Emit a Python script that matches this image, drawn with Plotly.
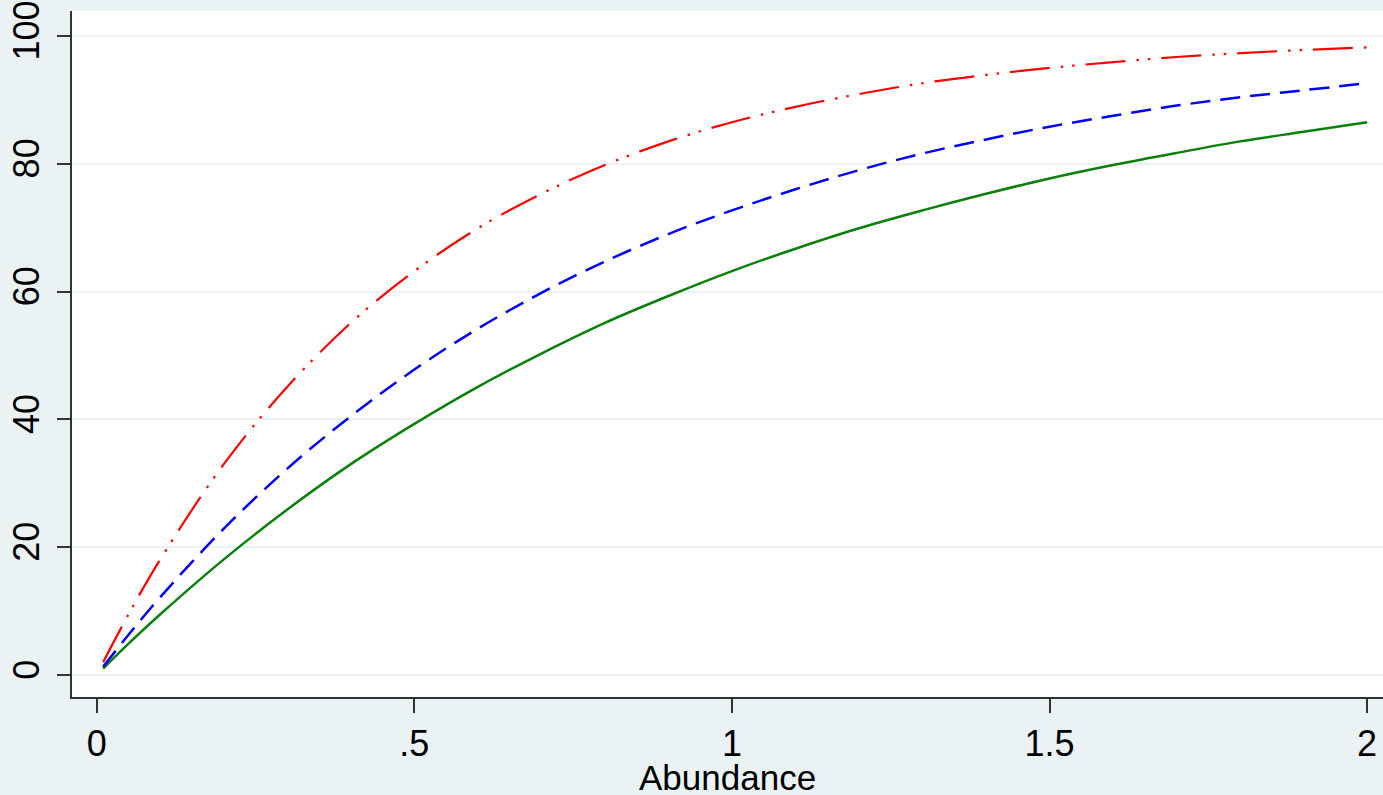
import plotly.graph_objects as go

abundance = [0.01, 0.05, 0.1, 0.2, 0.3, 0.4, 0.5, 0.6, 0.7, 0.8, 0.9, 1.0,
             1.1, 1.2, 1.3, 1.4, 1.5, 1.6, 1.7, 1.8, 1.9, 2.0]
red_vals = [2.0, 9.5, 18.1, 33.0, 45.1, 55.1, 63.2, 69.9, 75.3, 79.8, 83.5, 86.5,
            88.9, 90.9, 92.6, 93.9, 95.0, 95.9, 96.7, 97.3, 97.8, 98.2]
blue_vals = [1.3, 6.3, 12.2, 22.9, 32.3, 40.5, 47.8, 54.2, 59.8, 64.7, 69.0, 72.7,
             76.0, 79.0, 81.6, 83.8, 85.8, 87.5, 89.1, 90.4, 91.5, 92.6]
green_vals = [1.0, 4.9, 9.5, 18.1, 25.9, 33.0, 39.3, 45.1, 50.3, 55.1, 59.3, 63.2,
              66.7, 69.9, 72.7, 75.3, 77.7, 79.8, 81.7, 83.5, 85.0, 86.5]
x_ticks = [0, 0.5, 1, 1.5, 2]
x_ticklabels = ["0", ".5", "1", "1.5", "2"]
y_ticks = [0, 20, 40, 60, 80, 100]
y_ticklabels = ["0", "20", "40", "60", "80", "100"]
x_title = "Abundance"

BG = "#EAF2F3"
fig = go.Figure()
fig.add_trace(go.Scatter(x=abundance, y=green_vals, mode="lines", line_shape="spline",
                         line=dict(color="#0a800a", width=2.5)))
fig.add_trace(go.Scatter(x=abundance, y=blue_vals, mode="lines", line_shape="spline",
                         line=dict(color="#0000FF", width=2.5, dash="20px,10px")))
fig.add_trace(go.Scatter(x=abundance, y=red_vals, mode="lines", line_shape="spline",
                         line=dict(color="#FF0000", width=2.2,
                                   dash="40px,11px,2.5px,9px,2.5px,11px")))

fig.update_layout(
    width=1383, height=795,
    paper_bgcolor=BG, plot_bgcolor="white",
    margin=dict(l=72, r=0, t=11, b=98),
    showlegend=False,
    font=dict(family="Liberation Sans, Arial, sans-serif", size=36, color="black"),
)
fig.update_xaxes(
    range=[-0.039, 2.025], tickmode="array", tickvals=x_ticks, ticktext=x_ticklabels,
    ticks="outside", ticklen=14, tickwidth=2, tickcolor="#333333",
    showline=True, linecolor="#333333", linewidth=2, showgrid=False, zeroline=False,
    ticklabelstandoff=0, automargin=False,
)
fig.update_yaxes(
    range=[-3.44, 103.9], tickmode="array", tickvals=y_ticks, ticktext=y_ticklabels,
    ticks="outside", ticklen=13, tickwidth=2, tickcolor="#333333", tickangle=-90,
    showline=True, linecolor="#333333", linewidth=2,
    showgrid=True, gridcolor=BG, gridwidth=2, zeroline=False,
    ticklabelstandoff=4, automargin=False,
)
fig.add_annotation(text=x_title, xref="paper", yref="paper", x=0.5, y=0,
                   xanchor="center", yanchor="middle", yshift=-80, showarrow=False,
                   font=dict(size=35))
fig.write_html("out.html", config={"displayModeBar": False},
               post_script="document.body.style.margin='0';"
                           "document.body.style.overflow='hidden';")
